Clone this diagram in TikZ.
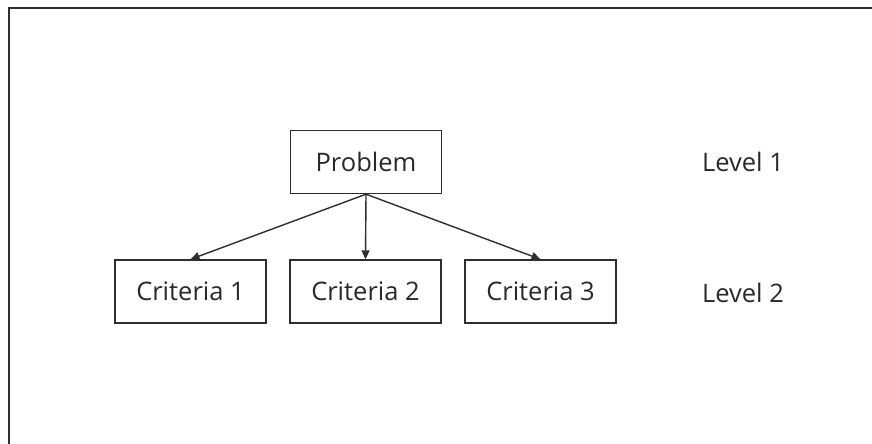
\documentclass[tikz,border=0pt]{standalone}
\usepackage{fontspec}
\setmainfont{Open Sans}
\usepackage{tikz}
\usetikzlibrary{arrows.meta,positioning}
\definecolor{inkgray}{HTML}{2E2E2E}
\tikzset{
  ahp/box/.style={draw=inkgray, line width=1.4pt, minimum width=151pt, minimum height=63pt, align=center, font=\fontsize{25.5}{30}\selectfont, text=inkgray!90!black},
  ahp/level/.style={font=\fontsize{25.5}{30}\selectfont, text=inkgray!90!black},
  ahp/arr/.style={draw=inkgray, line width=1.4pt, -{Triangle[length=9pt,width=8pt]}},
  ahp/frame/.style={draw=inkgray, line width=2pt}
}
\begin{document}
\begin{tikzpicture}[x=1pt, y=-1pt]
  \useasboundingbox (0,0) rectangle (872,444);
  \draw[ahp/frame] (9,444) -- (9,8) -- (872,8);

  \node[ahp/box] (problem) at (366,162) {Problem};
  \node[ahp/box] (crit1) at (190.5,291.5) {Criteria 1};
  \node[ahp/box] (crit2) at (365.5,291.5) {Criteria 2};
  \node[ahp/box] (crit3) at (540.5,291.5) {Criteria 3};
  \node[ahp/level] (lev1) at (743,162) {Level 1};
  \node[ahp/level] (lev2) at (743,293) {Level 2};

  \draw[ahp/arr] (problem.south) -- (crit1.north);
  \draw[ahp/arr] (problem.south) -- (crit2.north);
  \draw[ahp/arr] (problem.south) -- (crit3.north);
\end{tikzpicture}
\end{document}
